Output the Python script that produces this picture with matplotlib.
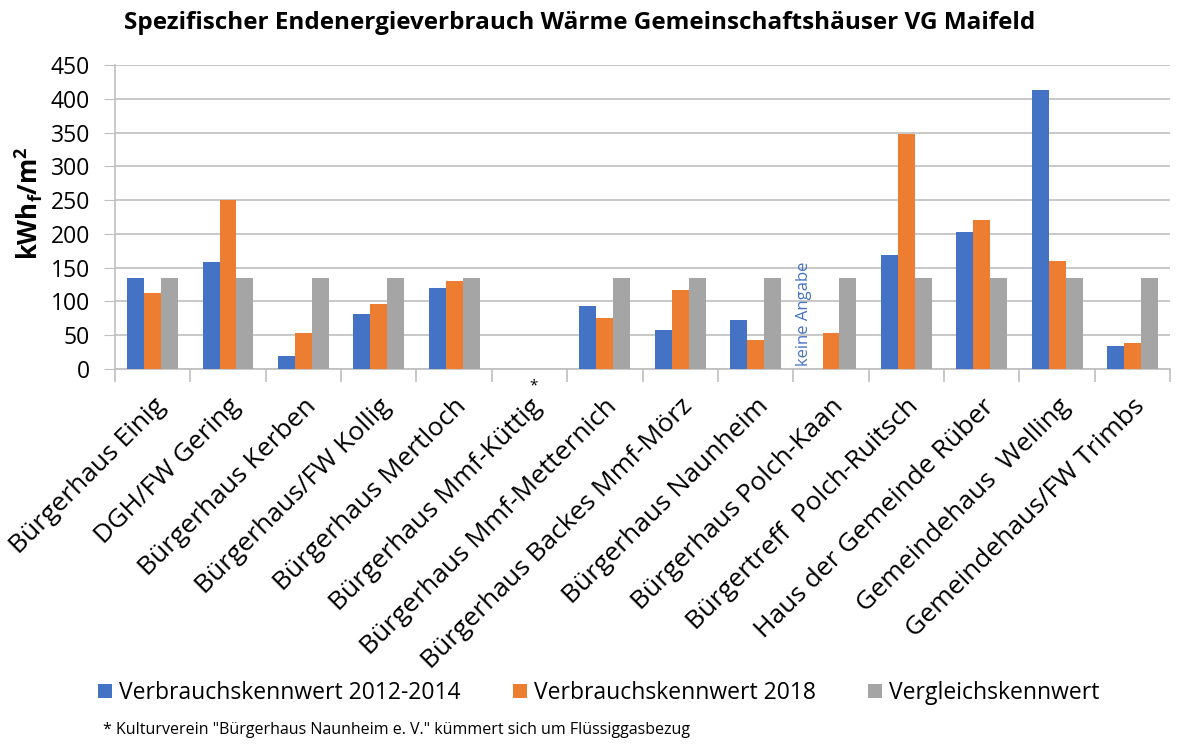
import numpy as np
import matplotlib
matplotlib.use('Agg')
from matplotlib import pyplot as plt

plt.rcParams['font.family'] = ['Open Sans', 'DejaVu Sans']
plt.rcParams['mathtext.fontset'] = 'custom'
plt.rcParams['mathtext.rm'] = 'Open Sans:bold'
plt.rcParams['mathtext.bf'] = 'Open Sans:bold'

# Daten
gebaeude = ['Bürgerhaus Einig', 'DGH/FW Gering', 'Bürgerhaus Kerben',
            'Bürgerhaus/FW Kollig', 'Bürgerhaus Mertloch',
            'Bürgerhaus Mmf-Küttig', 'Bürgerhaus Mmf-Metternich',
            'Bürgerhaus Backes Mmf-Mörz', 'Bürgerhaus Naunheim',
            'Bürgerhaus Polch-Kaan', 'Bürgertreff  Polch-Ruitsch',
            'Haus der Gemeinde Rüber', 'Gemeindehaus  Welling',
            'Gemeindehaus/FW Trimbs']
kennwert_2012_2014 = [135, 159, 20, 82, 120, np.nan, 93, 58, 73, np.nan,
                      169, 203, 413, 34]
kennwert_2018 = [112, 250, 54, 96, 130, np.nan, 76, 117, 43, 54,
                 348, 220, 160, 39]
vergleich = [135, 135, 135, 135, 135, np.nan, 135, 135, 135, 135,
             135, 135, 135, 135]
serien = ['Verbrauchskennwert 2012-2014', 'Verbrauchskennwert 2018',
          'Vergleichskennwert']
farben = ['#4472C4', '#ED7D31', '#A5A5A5']

fig = plt.figure(figsize=(11.79, 7.47), dpi=100)
ax = fig.add_axes([0.0975, 0.506, 0.895, 0.407])

x = np.arange(len(gebaeude))
w = 0.225
for i, (werte, name) in enumerate(zip([kennwert_2012_2014, kennwert_2018, vergleich], serien)):
    ax.bar(x + (i - 1) * w, werte, w, color=farben[i], label=name, zorder=3)

ax.set_xlim(-0.5, len(gebaeude) - 0.5)
ax.set_ylim(0, 450)
ax.set_yticks(np.arange(0, 451, 50))
ax.tick_params(axis='y', labelsize=16.5, length=8, color='#BFBFBF', pad=10)
ax.yaxis.grid(True, color='#BFBFBF', linewidth=1.2, zorder=0)

# Trennstriche zwischen den Kategorien
ax.set_xticks(np.arange(-0.5, len(gebaeude), 1.0))
ax.set_xticklabels([])
ax.tick_params(axis='x', length=9, color='#BFBFBF', width=1.2)
ax.set_xticks(x, minor=True)
ax.set_xticklabels(gebaeude, minor=True, rotation=45, ha='right',
                   rotation_mode='anchor', fontsize=19)
ax.tick_params(axis='x', which='minor', length=0, pad=18)

for s in ['top', 'right']:
    ax.spines[s].set_visible(False)
for s in ['left', 'bottom']:
    ax.spines[s].set_color('#BFBFBF')
    ax.spines[s].set_linewidth(1.2)

ax.set_ylabel(r'kWh$_\mathrm{f}$/m$^\mathrm{2}$', fontsize=18.5,
              fontweight='bold')
ax.yaxis.set_label_coords(-0.066, 0.545)

ax.text(9 - w - 0.13, 5, 'keine Angabe', rotation=90, color='#4472C4',
        fontsize=12, ha='center', va='bottom')
ax.text(5.05, -14, '*', fontsize=11, ha='center', va='top')

fig.suptitle('Spezifischer Endenergieverbrauch Wärme Gemeinschaftshäuser VG Maifeld',
             fontsize=17.5, fontweight='bold', x=0.492, y=0.985)

fig.legend(loc='center', bbox_to_anchor=(0.508, 0.072), ncol=3, frameon=False,
           fontsize=16.5, handlelength=0.6, handleheight=0.6,
           handletextpad=0.3, columnspacing=2.3)
fig.text(0.087, 0.018, '* Kulturverein "Bürgerhaus Naunheim e. V." kümmert sich um Flüssiggasbezug',
         fontsize=11.5)

plt.savefig('out.png', dpi=100)
